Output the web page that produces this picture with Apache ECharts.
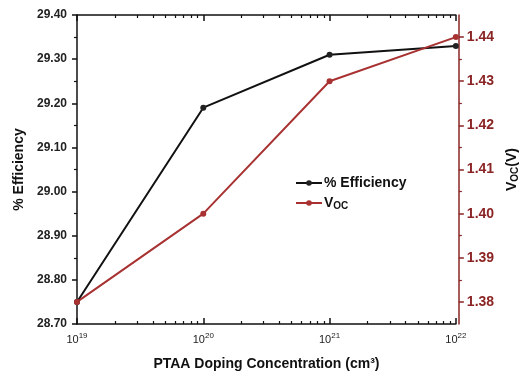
<!DOCTYPE html>
<html><head><meta charset="utf-8">
<script src="https://cdn.jsdelivr.net/npm/echarts@6/dist/echarts.min.js"></script>
<style>html,body{margin:0;padding:0;background:#fff}#c{width:528px;height:378px}</style>
</head><body><div id="c"></div>
<script>
const doping = [1e19, 1e20, 1e21, 1e22];
const efficiency = [28.75, 29.19, 29.31, 29.33];
const voc = [1.38, 1.40, 1.43, 1.44];
const xMajorTicks = [1e19, 1e20, 1e21, 1e22];
const xMinorTicks = [];
[19, 20, 21].forEach(e => { for (let k = 2; k <= 9; k++) xMinorTicks.push(k * Math.pow(10, e)); });
const vocTicks = [1.38, 1.39, 1.40, 1.41, 1.42, 1.43, 1.44];
const vocMinorTicks = [1.385, 1.395, 1.405, 1.415, 1.425, 1.435];

const RED = '#a83232';
const DRED = '#8b2525';
const FONT = '"Liberation Sans", Arial, sans-serif';

const chart = echarts.init(document.getElementById('c'), null, {renderer: 'canvas'});
const supFmt = v => '{b|10}{s|' + Math.round(Math.log10(v)) + '}';
const baseX = {type: 'log', logBase: 10, min: 1e19, max: 1e22, gridIndex: 0, splitLine: {show: false}};
const vocRange = {type: 'value', min: 1.375, max: 1.445, splitLine: {show: false}};
chart.setOption({
  animation: false,
  textStyle: {fontFamily: FONT},
  grid: {left: 77, right: 70, top: 15, bottom: 54, containLabel: false},
  legend: {
    orient: 'vertical', left: 290, top: 171, itemWidth: 26, itemHeight: 7, itemGap: 6,
    textStyle: {fontFamily: FONT, fontWeight: 'bold', fontSize: 14, color: '#111', padding: [0, 0, 0, -3],
      rich: {v: {fontFamily: FONT, fontWeight: 'bold', fontSize: 14, color: '#111'},
             o: {fontFamily: FONT, fontWeight: 'bold', fontSize: 10, color: '#111', padding: [6, 0, 0, 0]}}},
    formatter: n => n === 'VOC' ? '{v|V}{o|OC}' : n,
    data: ['% Efficiency', 'VOC']
  },
  xAxis: [
    Object.assign({}, baseX, {
      position: 'bottom',
      name: 'PTAA Doping Concentration (cm³)', nameLocation: 'middle', nameGap: 33,
      nameTextStyle: {fontFamily: FONT, fontWeight: 'bold', fontSize: 14, color: '#111'},
      axisLine: {lineStyle: {color: '#111', width: 1.5}},
      axisTick: {inside: true, length: 6, lineStyle: {color: '#111', width: 1.5}, customValues: xMajorTicks},
      axisLabel: {margin: 8, formatter: supFmt, customValues: xMajorTicks,
        rich: {b: {fontFamily: FONT, fontSize: 11, color: '#222'},
               s: {fontFamily: FONT, fontSize: 8, color: '#222', padding: [0, 0, 7, 0]}}}
    }),
    Object.assign({}, baseX, {
      position: 'bottom', axisLine: {show: false},
      axisTick: {inside: true, length: 3, lineStyle: {color: '#111', width: 1.2}, customValues: xMinorTicks},
      axisLabel: {show: false}
    }),
    Object.assign({}, baseX, {
      position: 'top',
      axisLine: {lineStyle: {color: '#111', width: 1.5}},
      axisTick: {inside: true, length: 6, lineStyle: {color: '#111', width: 1.5}, customValues: xMajorTicks},
      axisLabel: {show: false}
    }),
    Object.assign({}, baseX, {
      position: 'top', axisLine: {show: false},
      axisTick: {inside: true, length: 3, lineStyle: {color: '#111', width: 1.2}, customValues: xMinorTicks},
      axisLabel: {show: false}
    })
  ],
  yAxis: [
    {
      type: 'value', position: 'left', min: 28.7, max: 29.4, interval: 0.1,
      name: '% Efficiency', nameLocation: 'middle', nameGap: 50, nameRotate: 90,
      nameTextStyle: {fontFamily: FONT, fontWeight: 'bold', fontSize: 14, color: '#111'},
      splitLine: {show: false},
      axisLine: {show: true, lineStyle: {color: '#111', width: 1.5}},
      axisTick: {show: true, length: 5, lineStyle: {color: '#111', width: 1.5}},
      minorTick: {show: true, splitNumber: 2, length: 3, lineStyle: {color: '#111', width: 1.2}},
      axisLabel: {margin: 10, fontFamily: FONT, fontWeight: 'bold', fontSize: 12, color: '#222',
        formatter: v => v.toFixed(2)}
    },
    Object.assign({}, vocRange, {
      position: 'right', offset: 3,
      name: '{v|V}{o|OC}{v|(V)}', nameLocation: 'middle', nameGap: 44, nameRotate: 90,
      nameTextStyle: {fontFamily: FONT, fontWeight: 'bold', fontSize: 14, color: '#111',
        rich: {v: {fontFamily: FONT, fontWeight: 'bold', fontSize: 14, color: '#111'},
               o: {fontFamily: FONT, fontWeight: 'bold', fontSize: 10, color: '#111', padding: [6, 0, 0, 0]}}},
      axisLine: {show: true, lineStyle: {color: DRED, width: 1.5}},
      axisTick: {show: true, length: 5, lineStyle: {color: DRED, width: 1.5}, customValues: vocTicks},
      axisLabel: {margin: 8, fontFamily: FONT, fontWeight: 'bold', fontSize: 14, color: DRED,
        customValues: vocTicks, formatter: v => v.toFixed(2)}
    }),
    Object.assign({}, vocRange, {
      position: 'right', offset: 3,
      axisLine: {show: false},
      axisTick: {show: true, length: 3, lineStyle: {color: DRED, width: 1.2}, customValues: vocMinorTicks},
      axisLabel: {show: false}
    })
  ],
  series: [
    {
      name: '% Efficiency', type: 'line', xAxisIndex: 0, yAxisIndex: 0,
      data: doping.map((x, i) => [x, efficiency[i]]),
      symbol: 'circle', symbolSize: 6,
      lineStyle: {color: '#111', width: 2}, itemStyle: {color: '#222'}
    },
    {
      name: 'VOC', type: 'line', xAxisIndex: 0, yAxisIndex: 1,
      data: doping.map((x, i) => [x, voc[i]]),
      symbol: 'circle', symbolSize: 6,
      lineStyle: {color: RED, width: 2}, itemStyle: {color: RED}
    }
  ]
});
</script>
</body></html>
